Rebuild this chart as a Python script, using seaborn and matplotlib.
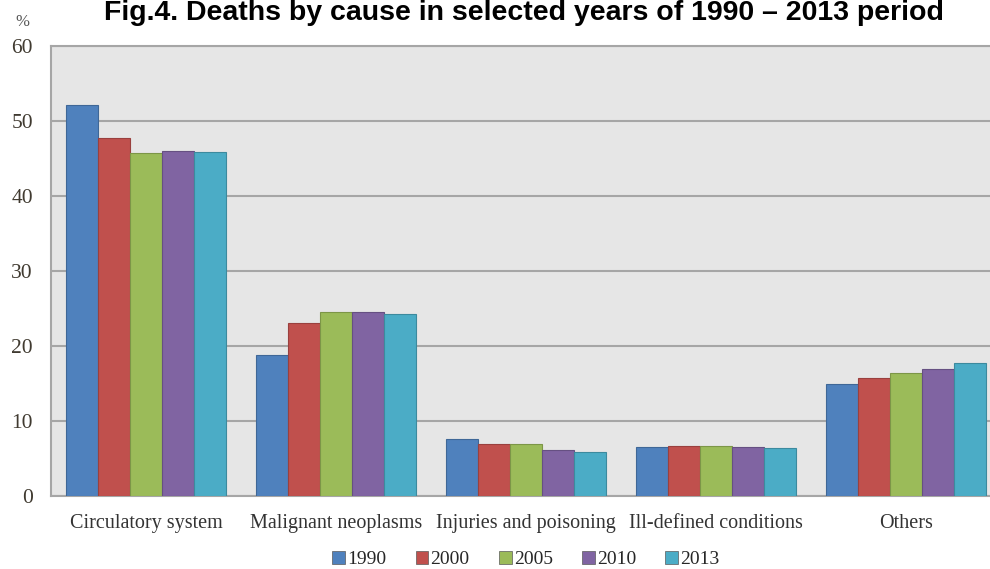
import matplotlib
matplotlib.use("Agg")
import matplotlib.pyplot as plt
import seaborn as sns
import pandas as pd

categories = ["Circulatory system", "Malignant neoplasms", "Injuries and poisoning",
              "Ill-defined conditions", "Others"]
years = ["1990", "2000", "2005", "2010", "2013"]
v1990 = [52.1, 18.8, 7.6, 6.5, 15.0]
v2000 = [47.7, 23.1, 7.0, 6.7, 15.8]
v2005 = [45.7, 24.5, 7.0, 6.7, 16.4]
v2010 = [46.0, 24.5, 6.2, 6.5, 16.9]
v2013 = [45.9, 24.3, 5.9, 6.4, 17.7]
yticks = [0, 10, 20, 30, 40, 50, 60]
title = "Fig.4. Deaths by cause in selected years of 1990 \u2013 2013 period"

colors = ["#4f81bd", "#c0504d", "#9bbb59", "#8064a2", "#4bacc6"]

rows = []
for yr, vals in zip(years, [v1990, v2000, v2005, v2010, v2013]):
    for c, v in zip(categories, vals):
        rows.append({"cause": c, "year": yr, "value": v})
df = pd.DataFrame(rows)

sns.set_theme(style="white")
plt.rcParams["font.family"] = ["Liberation Serif", "DejaVu Serif"]

fig = plt.figure(figsize=(9.9, 5.69), dpi=100)
W, H = 990, 569
left, right, top, bottom = 51, 1001, 46, 496
ax = fig.add_axes([left / W, 1 - bottom / H, (right - left) / W, (bottom - top) / H])
ax.set_facecolor("#e6e6e6")

sns.barplot(data=df, x="cause", y="value", hue="year", order=categories,
            hue_order=years, palette=colors, saturation=1, width=0.84, gap=0,
            linewidth=0.8, ax=ax, legend=True, zorder=3)
for bar in ax.patches:
    fc = bar.get_facecolor()
    bar.set_edgecolor(tuple(max(0, x * 0.8) for x in fc[:3]))

ax.set_ylim(0, 60)
ax.set_xlim(-0.5, 4.5)
ax.set_yticks(yticks)
ax.yaxis.grid(True, color="#a6a6a6", linewidth=1.5, zorder=0)
ax.set_axisbelow(True)
ax.set_xlabel("")
ax.set_ylabel("")
for s in ax.spines.values():
    s.set_color("#a6a6a6")
    s.set_linewidth(1.5)
ax.tick_params(axis="both", length=0, colors="#333333")
ax.tick_params(axis="y", pad=13, labelsize=15.5)
ax.tick_params(axis="x", pad=13, labelsize=14.5)
for lbl in ax.get_yticklabels():
    lbl.set_color("#403a30")

leg = ax.legend(loc="upper center", bbox_to_anchor=(0.5, -0.104), ncol=5,
                frameon=False, fontsize=14, handlelength=0.65, handleheight=0.65,
                handletextpad=0.12, columnspacing=1.5, borderaxespad=0)
for h in leg.legend_handles:
    h.set_edgecolor("#5a5a5a")
    h.set_linewidth(0.5)

fig.text(15 / W, 1 - 22 / H, "%", fontsize=12, color="#555555", ha="left", va="center")
fig.text(524 / W, 1 - 20 / H, title, fontsize=20.5, fontweight="bold",
         family=["Liberation Sans", "DejaVu Sans"], ha="center", va="baseline", color="black")

fig.savefig("out.png", dpi=100)
